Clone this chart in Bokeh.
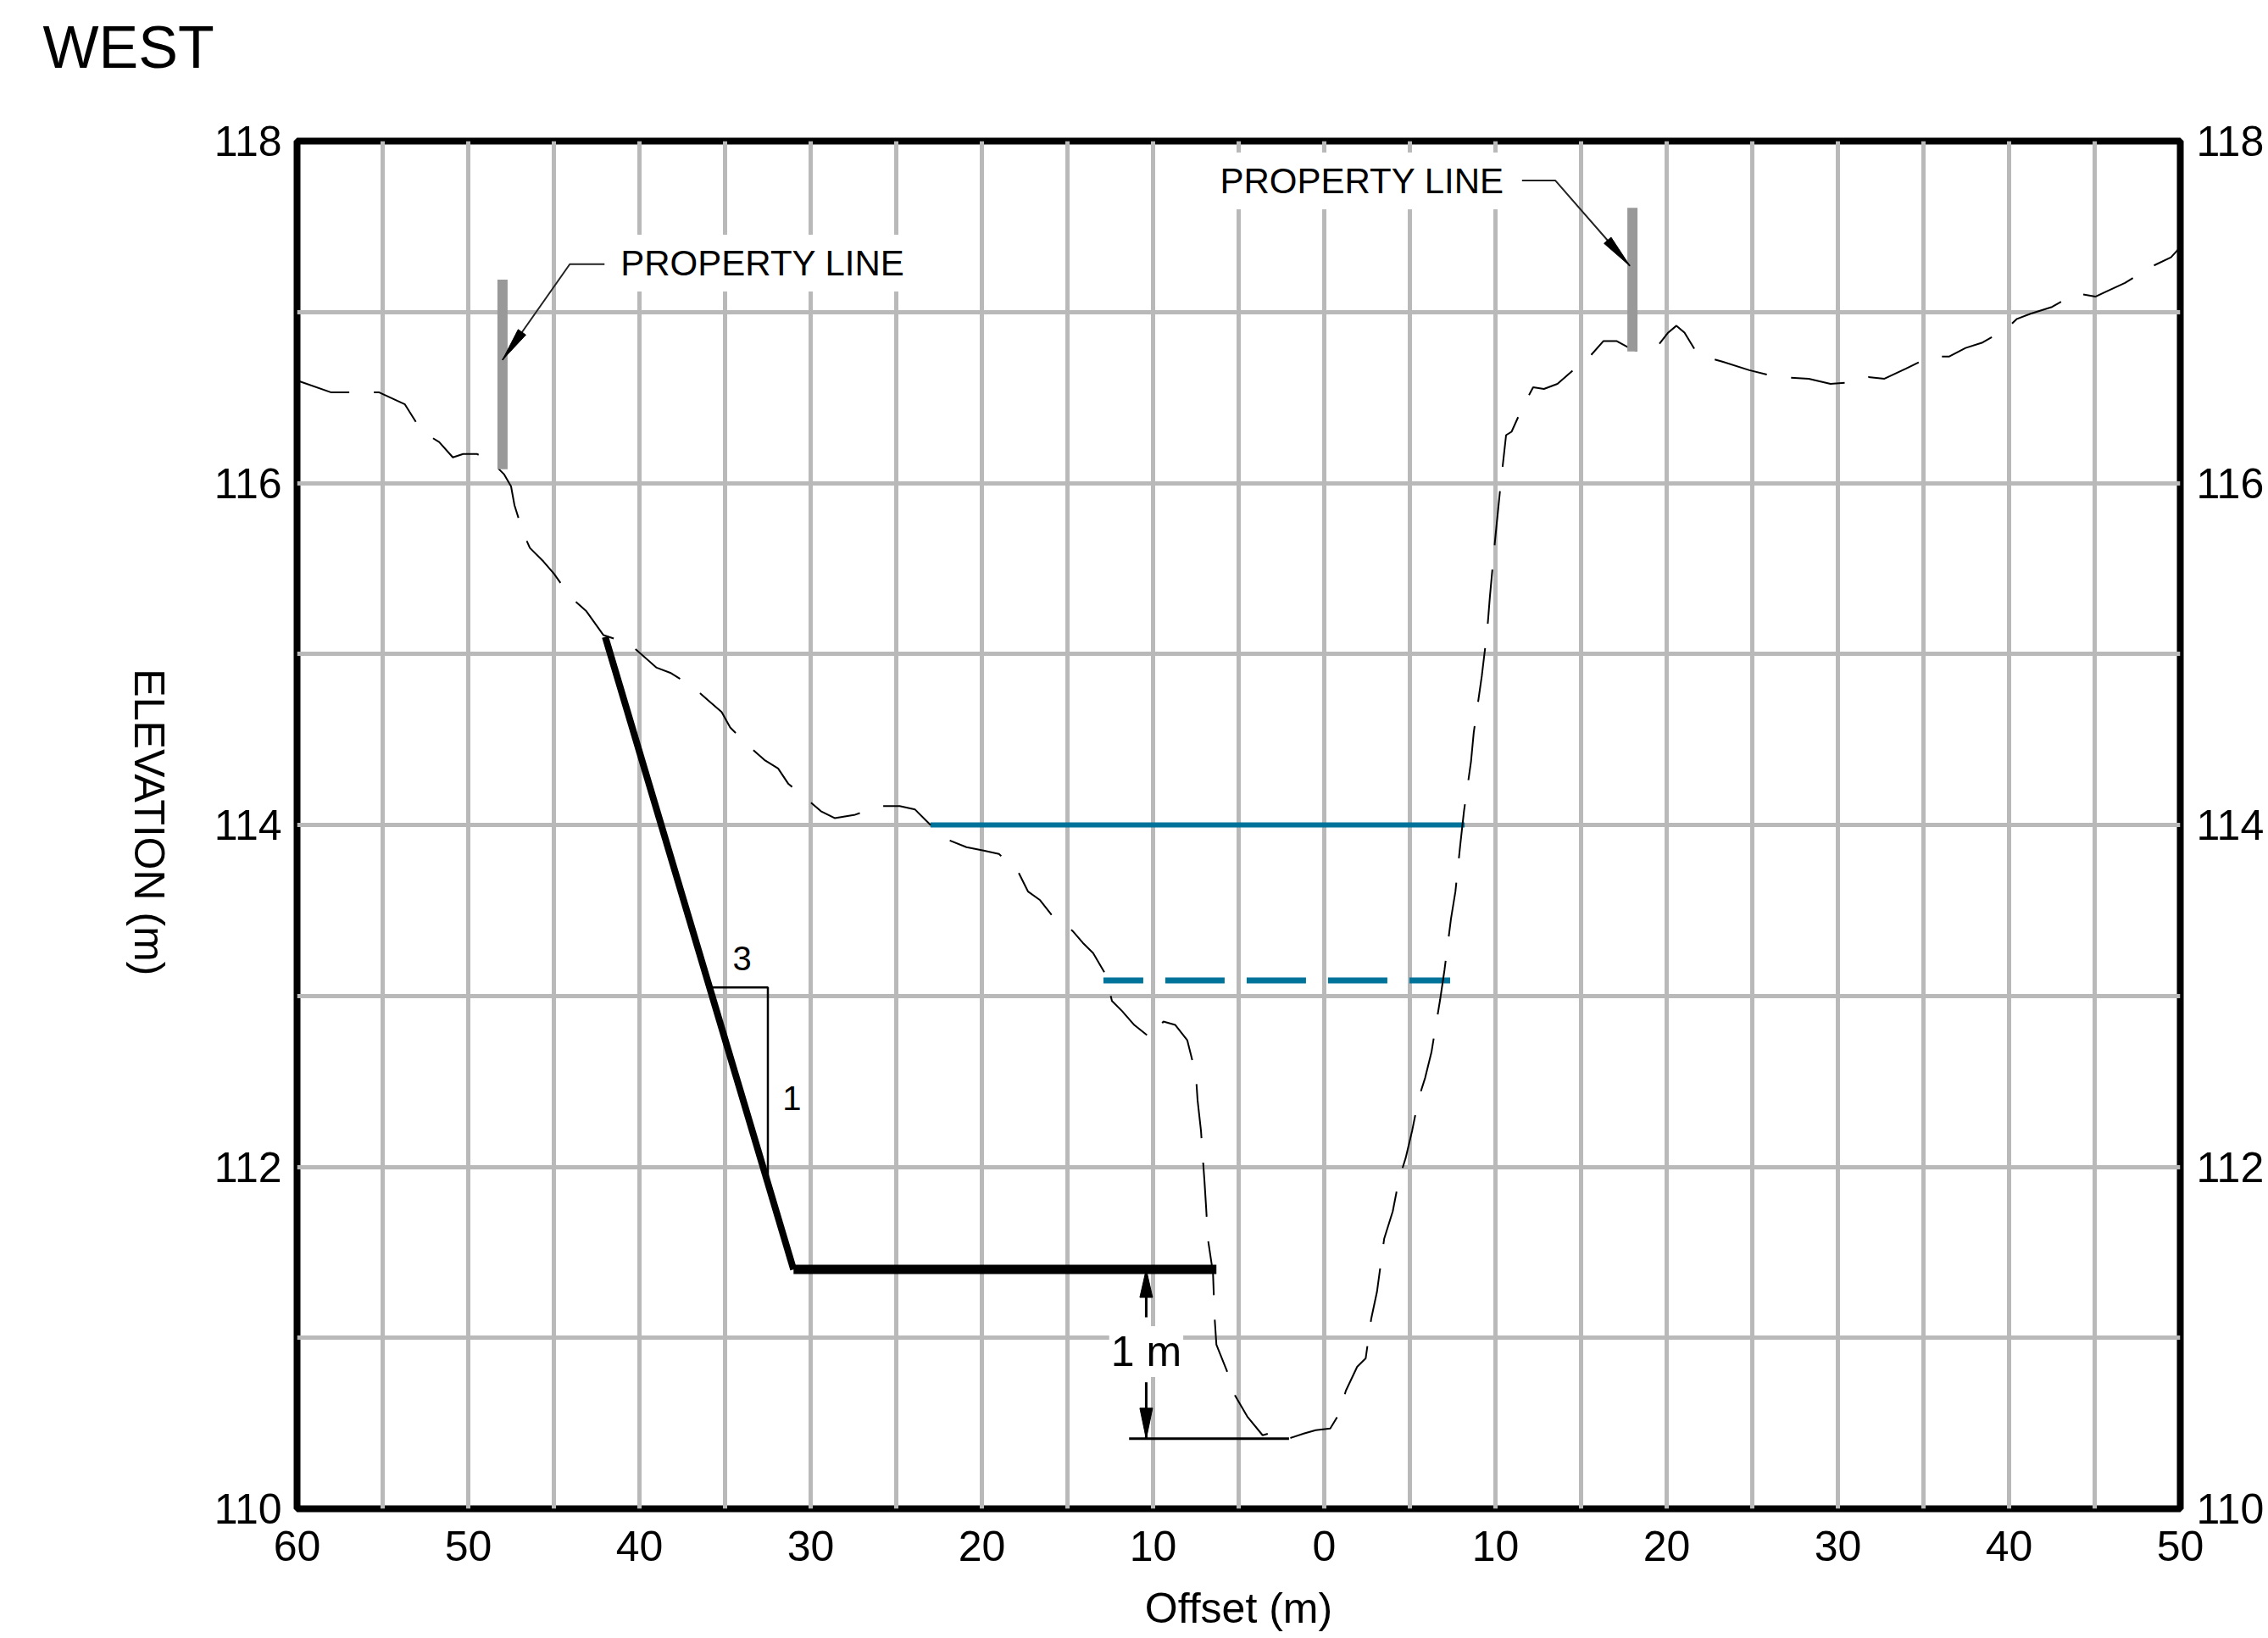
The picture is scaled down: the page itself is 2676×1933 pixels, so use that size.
import math
from bokeh.plotting import figure
from bokeh.layouts import column, row
from bokeh.models import FixedTicker, LinearAxis, Range1d, Label
from bokeh.embed import file_html
from bokeh.resources import INLINE

# ---------------- data ----------------
x_ticks = [-60, -50, -40, -30, -20, -10, 0, 10, 20, 30, 40, 50]
x_tick_labels = ["60", "50", "40", "30", "20", "10", "0", "10", "20", "30", "40", "50"]
y_ticks = [110, 112, 114, 116, 118]

# existing ground profile (offset m, elevation m)
prof_x = [-60, -58.0, -56.5, -55.2, -53.7, -52.7, -51.7, -50.9, -50.3, -49.5, -48.7, -47.9, -47.5,
          -47.3, -46.8, -46.4, -45.6, -45.0, -44.0, -43.1, -42.1, -40.6, -39.8, -39.0, -38.2, -36.9,
          -36.0, -35.2, -34.7, -33.6, -32.7, -31.9, -31.3, -30.2, -29.4, -28.6, -27.4, -26.0, -24.8,
          -23.9, -23.0, -21.9, -20.9, -19.9, -19.0, -17.9, -17.3, -16.6, -15.9, -14.7, -14.1, -13.5,
          -12.8, -12.4, -11.8, -11.1, -10.1, -9.4, -8.7, -8.0, -7.7, -7.5, -7.4, -7.2, -7.1, -7.0,
          -6.9, -6.8, -6.5, -6.4, -6.3, -5.7, -5.2, -4.5, -3.6, -2.9, -2.1, -1.2, -0.5, 0.35, 0.84,
          1.26, 1.92, 2.42, 2.74, 3.08, 3.5, 4.0, 4.37, 4.75, 5.13, 5.51, 5.89, 6.26, 6.77, 7.02,
          7.4, 7.66, 7.94, 8.16, 8.57, 8.73, 9.2, 9.52, 9.67, 9.99, 10.15, 10.3, 10.62, 10.94, 11.57,
          12.2, 12.83, 13.62, 14.88, 15.51, 16.3, 17.09, 18.0, 18.51, 19.46, 20.09, 20.57, 21.04,
          21.83, 23.25, 24.83, 26.41, 28.3, 29.57, 30.99, 31.78, 32.72, 33.99, 35.41, 36.51, 37.46,
          38.41, 39.83, 40.46, 41.25, 42.51, 43.93, 45.04, 45.67, 46.77, 48.2, 49.46, 50]
prof_y = [116.60, 116.53, 116.53, 116.53, 116.46, 116.30, 116.24, 116.15, 116.17, 116.17, 116.13,
          116.05, 115.98, 115.87, 115.71, 115.62, 115.54, 115.47, 115.33, 115.25, 115.11, 115.06,
          114.99, 114.92, 114.89, 114.81, 114.73, 114.66, 114.57, 114.46, 114.38, 114.33, 114.24,
          114.15, 114.08, 114.04, 114.06, 114.11, 114.11, 114.09, 114.00, 113.91, 113.87, 113.85,
          113.83, 113.73, 113.61, 113.56, 113.47, 113.38, 113.31, 113.25, 113.13, 112.97, 112.91,
          112.83, 112.75, 112.85, 112.83, 112.74, 112.62, 112.54, 112.39, 112.21, 112.06, 111.92,
          111.76, 111.58, 111.38, 111.11, 110.96, 110.81, 110.66, 110.54, 110.43, 110.45, 110.41,
          110.44, 110.46, 110.47, 110.55, 110.69, 110.83, 110.88, 111.11, 111.27, 111.58, 111.74,
          111.93, 112.05, 112.21, 112.40, 112.52, 112.67, 112.98, 113.15, 113.45, 113.61, 113.88,
          114.08, 114.37, 114.54, 114.87, 115.14, 115.33, 115.68, 115.84, 115.99, 116.28, 116.30,
          116.44, 116.56, 116.55, 116.58, 116.69, 116.74, 116.83, 116.83, 116.78, 116.77, 116.80,
          116.88, 116.92, 116.88, 116.75, 116.71, 116.66, 116.62, 116.61, 116.58, 116.59, 116.62,
          116.61, 116.67, 116.74, 116.74, 116.79, 116.82, 116.90, 116.96, 116.99, 117.03, 117.11,
          117.09, 117.12, 117.17, 117.26, 117.32, 117.38]

# water levels
high_water_x = [-23.0, 8.2]
high_water_y = [114.0, 114.0]
low_water_x = [-12.9, 7.35]
low_water_y = [113.09, 113.09]

# proposed section: 3:1 slope then bench
slope_x = [-42.0, -31.0]
slope_y = [115.1, 111.4]
bench_x = [-31.0, -6.3]
bench_y = [111.4, 111.4]

# slope triangle 3:1
tri_x = [-35.8, -32.5, -32.5]
tri_y = [113.05, 113.05, 111.92]
tri_run_label = "3"
tri_rise_label = "1"
tri_run_pos = (-34.0, 113.22)
tri_rise_pos = (-31.1, 112.40)

# 1 m dimension
dim_x = -10.4
dim_top = 111.4
dim_bot = 110.41
dim_ext_x = [-11.4, -2.06]
dim_label = "1 m"

# property lines
prop_x = [-48.0, 18.0]
prop_top = [117.19, 117.61]
prop_bot = [116.08, 116.77]
prop_label = "PROPERTY LINE"

title_text = "WEST"
x_title = "Offset (m)"
y_title = "ELEVATION (m)"

# ---------------- layout constants ----------------
PAGE_W, PAGE_H = 2676, 1933
TOP_H = 110                 # strip holding the title
LEFT_W = 230                # strip holding the rotated y title
FW, FH = 2222, 1614         # plot frame
FRAME_L, FRAME_T = 350, 166  # frame position on the page
X0, X1, Y0, Y1 = -60, 50, 110, 118
SX = FW / (X1 - X0)
SY = FH / (Y1 - Y0)
FONT = "Liberation Sans"
PAD = 10

MAIN_W = PAGE_W - LEFT_W
MAIN_H = PAGE_H - TOP_H
ML = FRAME_L - LEFT_W
MT = FRAME_T - TOP_H


def blank(w, h):
    f = figure(width=w, height=h, x_range=Range1d(0, w), y_range=Range1d(0, h),
               x_axis_type=None, y_axis_type=None, output_backend="svg",
               toolbar_location=None, min_border=0, title=None,
               background_fill_color="white", border_fill_color="white")
    f.grid.visible = False
    f.outline_line_color = None
    return f


# title strip
top = blank(PAGE_W, TOP_H)
top.add_layout(Label(x=50, y=TOP_H - 55, text=title_text, text_font=FONT,
                     text_font_size="70px", text_align="left", text_baseline="middle",
                     text_color="black"))

# y-title strip
left = blank(LEFT_W, MAIN_H)
left.add_layout(Label(x=175, y=MAIN_H - (FRAME_T + FH / 2 - TOP_H) - 45, text=y_title,
                      text_font=FONT, text_font_size="50px", text_align="center",
                      text_baseline="middle", angle=-math.pi / 2, text_color="black"))

# ---------------- main figure ----------------
p = figure(width=MAIN_W, height=MAIN_H, x_range=Range1d(X0, X1), y_range=Range1d(Y0, Y1),
           output_backend="svg", toolbar_location=None,
           min_border_left=ML, min_border_top=MT,
           min_border_right=MAIN_W - ML - FW, min_border_bottom=MAIN_H - MT - FH,
           background_fill_color="white", border_fill_color="white")

p.outline_line_color = "black"
p.outline_line_width = 8
p.outline_line_alpha = 1.0

p.xaxis.ticker = FixedTicker(ticks=x_ticks)
p.xaxis.major_label_overrides = {t: s for t, s in zip(x_ticks, x_tick_labels)}
p.yaxis.ticker = FixedTicker(ticks=y_ticks)
p.add_layout(LinearAxis(ticker=FixedTicker(ticks=y_ticks)), "right")

for ax in p.axis:
    ax.axis_line_color = None
    ax.major_tick_line_color = None
    ax.minor_tick_line_color = None
    ax.major_tick_out = 0
    ax.major_tick_in = 0
    ax.major_label_text_font = FONT
    ax.major_label_text_font_size = "50px"
    ax.major_label_text_color = "black"
p.xaxis.major_label_standoff = 26
p.yaxis[0].major_label_standoff = 18
p.yaxis[1].major_label_standoff = 19

p.xaxis.axis_label = x_title
p.xaxis.axis_label_text_font = FONT
p.xaxis.axis_label_text_font_size = "50px"
p.xaxis.axis_label_text_font_style = "normal"
p.xaxis.axis_label_text_color = "black"
p.xaxis.axis_label_standoff = 25

p.xgrid.ticker = FixedTicker(ticks=list(range(-55, 50, 5)))
p.ygrid.ticker = FixedTicker(ticks=list(range(111, 118)))
for g in (p.xgrid, p.ygrid):
    g.grid_line_color = "#b9b9b9"
    g.grid_line_width = 5
    g.grid_line_alpha = 1.0

BLUE = "#00739a"

# water lines
p.line(high_water_x, high_water_y, line_color=BLUE, line_width=6)
p.line(low_water_x, low_water_y, line_color=BLUE, line_width=7, line_dash="70 26",
       line_dash_offset=23)

# existing ground
p.line(prof_x, prof_y, line_color="black", line_width=2, line_dash="64 29")

# proposed section
p.line(slope_x, slope_y, line_color="black", line_width=8)
p.line(bench_x, bench_y, line_color="black", line_width=11)

# slope triangle
p.line(tri_x, tri_y, line_color="black", line_width=2.5)


def head(tip, frm, length, width):
    dx = (tip[0] - frm[0]) * SX
    dy = (tip[1] - frm[1]) * SY
    L = math.hypot(dx, dy)
    ux, uy = dx / L, dy / L
    bx = tip[0] * SX - ux * length
    by = tip[1] * SY - uy * length
    px, py = -uy * width / 2, ux * width / 2
    xs = [tip[0], (bx + px) / SX, (bx - px) / SX]
    ys = [tip[1], (by + py) / SY, (by - py) / SY]
    return xs, ys


# property lines (gray bars)
p.segment(x0=prop_x, y0=prop_bot, x1=prop_x, y1=prop_top, line_color="#999999",
          line_width=12, line_cap="butt")

# leaders
left_tip = (prop_x[0], 116.72)
left_elbow = (-44.07, 117.28)
left_end = (-42.04, 117.28)
right_tip = (prop_x[1] - 0.15, 117.27)
right_elbow = (13.49, 117.77)
right_end = (11.55, 117.77)
for tip, elb, end in ((left_tip, left_elbow, left_end), (right_tip, right_elbow, right_end)):
    p.line([end[0], elb[0], tip[0]], [end[1], elb[1], tip[1]], line_color="#222222", line_width=2)
    hx, hy = head(tip, elb, 40, 11)
    p.patch(hx, hy, fill_color="black", line_color="black", line_width=1)

# 1 m dimension
p.line(dim_ext_x, [dim_bot, dim_bot], line_color="black", line_width=3)
p.line([dim_x, dim_x], [111.12, dim_top], line_color="black", line_width=3)
p.line([dim_x, dim_x], [110.74, dim_bot], line_color="black", line_width=3)
hx, hy = head((dim_x, dim_top), (dim_x, 110.9), 33, 15)
p.patch(hx, hy, fill_color="black", line_color="black")
hx, hy = head((dim_x, dim_bot), (dim_x, 110.9), 36, 15)
p.patch(hx, hy, fill_color="black", line_color="black")

# ---------------- texts ----------------
p.add_layout(Label(x=tri_run_pos[0], y=tri_run_pos[1], text=tri_run_label, text_font=FONT,
                   text_font_size="40px", text_align="center", text_baseline="middle",
                   text_color="black"))
p.add_layout(Label(x=tri_rise_pos[0], y=tri_rise_pos[1], text=tri_rise_label, text_font=FONT,
                   text_font_size="40px", text_align="center", text_baseline="middle",
                   text_color="black"))
p.add_layout(Label(x=dim_x, y=110.92, text=dim_label, text_font=FONT, text_font_size="50px",
                   text_align="center", text_baseline="middle", text_color="black",
                   background_fill_color="white", padding=2))

p.add_layout(Label(x=-41.1 - PAD / SX, y=117.286, text=prop_label, text_font=FONT,
                   text_font_size="42px", text_align="left", text_baseline="middle",
                   text_color="black", background_fill_color="white", padding=PAD))
p.add_layout(Label(x=-6.09 - PAD / SX, y=117.767, text=prop_label, text_font=FONT,
                   text_font_size="42px", text_align="left", text_baseline="middle",
                   text_color="black", background_fill_color="white", padding=PAD))

layout = column(top, row(left, p, spacing=0), spacing=0)

open("out.html", "w").write(file_html(layout, INLINE))
